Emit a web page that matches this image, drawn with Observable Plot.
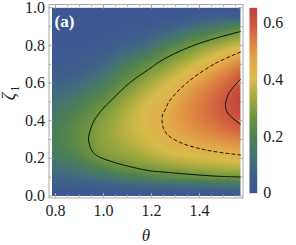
<!DOCTYPE html>
<html>
<head>
<meta charset="utf-8">
<script src="https://cdn.jsdelivr.net/npm/d3@7"></script>
<script src="https://cdn.jsdelivr.net/npm/@observablehq/plot@0.6"></script>
<style>
  html, body { margin:0; padding:0; background:#fff; }
  #fig { position:relative; width:296px; height:245px; overflow:hidden; background:#fff; }
  #fig svg { position:absolute; top:0; left:0; font-family:"Liberation Serif", "DejaVu Serif", serif !important; }
  #fig svg text { font-family:"Liberation Serif", "DejaVu Serif", serif !important; }
  #ylab { position:absolute; left:9px; top:93px; transform:translate(-50%,-50%) rotate(-90deg); font-family:"Liberation Serif", serif; font-size:18px; color:#222; white-space:nowrap; line-height:1; }
  #ylab i { font-style:italic; }
  #ylab span { font-size:12px; position:relative; top:4px; margin-left:1px; }
</style>
</head>
<body>
<div id="fig"><div id="ylab"><i>ζ</i><span>1</span></div></div>
<script>
// grid nodes (θ columns, ζ rows)
const thetaNodes = [0.7854, 0.8836, 0.9817, 1.0799, 1.1781, 1.2763, 1.3744, 1.4726, 1.5708];
const zetaNodes = [0, 0.05, 0.1, 0.15, 0.2, 0.25, 0.3, 0.35, 0.4, 0.45, 0.5, 0.55, 0.6, 0.65, 0.7, 0.75, 0.8, 0.85, 0.9, 0.95, 1];
// values along ζ for each θ column
const valTheta0 = [0, 0.04, 0.08, 0.12, 0.157, 0.18, 0.184, 0.178, 0.163, 0.142, 0.117, 0.09, 0.065, 0.043, 0.026, 0.014, 0.007, 0.003, 0.001, 0, 0];
const valTheta1 = [0, 0.05, 0.10, 0.15, 0.197, 0.228, 0.24, 0.236, 0.222, 0.198, 0.168, 0.133, 0.098, 0.067, 0.042, 0.024, 0.012, 0.005, 0.002, 0, 0];
const valTheta2 = [0, 0.06, 0.13, 0.205, 0.276, 0.296, 0.304, 0.304, 0.293, 0.27, 0.238, 0.198, 0.155, 0.113, 0.077, 0.048, 0.027, 0.013, 0.005, 0.001, 0];
const valTheta3 = [0, 0.07, 0.175, 0.258, 0.305, 0.333, 0.35, 0.358, 0.355, 0.343, 0.32, 0.288, 0.25, 0.205, 0.158, 0.112, 0.072, 0.04, 0.018, 0.005, 0];
const valTheta4 = [0, 0.08, 0.205, 0.283, 0.335, 0.372, 0.397, 0.41, 0.414, 0.408, 0.39, 0.362, 0.327, 0.29, 0.243, 0.175, 0.11, 0.06, 0.027, 0.008, 0];
const valTheta5 = [0, 0.09, 0.235, 0.31, 0.37, 0.415, 0.443, 0.462, 0.469, 0.466, 0.453, 0.43, 0.40, 0.36, 0.312, 0.265, 0.20, 0.12, 0.06, 0.02, 0];
const valTheta6 = [0, 0.10, 0.25, 0.33, 0.39, 0.44, 0.475, 0.503, 0.52, 0.524, 0.52, 0.505, 0.475, 0.435, 0.385, 0.33, 0.278, 0.19, 0.11, 0.04, 0];
const valTheta7 = [0, 0.11, 0.265, 0.345, 0.41, 0.46, 0.505, 0.54, 0.565, 0.578, 0.578, 0.565, 0.54, 0.505, 0.457, 0.40, 0.33, 0.255, 0.15, 0.06, 0];
const valTheta8 = [0, 0.12, 0.277, 0.355, 0.425, 0.48, 0.53, 0.575, 0.61, 0.64, 0.652, 0.638, 0.61, 0.58, 0.53, 0.465, 0.39, 0.31, 0.215, 0.06, 0];

// contour lines
const outerTheta = [1.5708, 1.39, 1.251, 1.1875, 1.1125, 1.035, 0.995, 0.96, 0.945, 0.9375, 0.941, 0.952, 0.974, 1.049, 1.1875, 1.251, 1.46, 1.5708];
const outerZeta  = [0.874, 0.807, 0.727, 0.672, 0.605, 0.512, 0.46, 0.399, 0.35, 0.31, 0.275, 0.24, 0.213, 0.177, 0.135, 0.127, 0.106, 0.101];
const dashTheta = [1.5708, 1.46, 1.349, 1.275, 1.258, 1.246, 1.244, 1.249, 1.265, 1.32, 1.432, 1.5708];
const dashZeta  = [0.765, 0.70, 0.603, 0.505, 0.461, 0.43, 0.40, 0.363, 0.328, 0.284, 0.243, 0.218];
const innerTheta = [1.5708, 1.529, 1.515, 1.508, 1.52, 1.5708];
const innerZeta  = [0.62, 0.559, 0.523, 0.475, 0.437, 0.381];

// ticks
const xMajor = [0.8, 1.0, 1.2, 1.4];
const xMinor = [0.85, 0.9, 0.95, 1.05, 1.1, 1.15, 1.25, 1.3, 1.35, 1.45, 1.5, 1.55];
const yMajor = [0, 0.2, 0.4, 0.6, 0.8, 1.0];
const yMinor = [0.1, 0.3, 0.5, 0.7, 0.9];
const cbTicks = [0, 0.2, 0.4, 0.6];
const cbMax = 0.654;

// colour ramp (DarkRainbow-like)
const colorStops = [0, 0.06, 0.12, 0.2, 0.27, 0.34, 0.4, 0.46, 0.52, 0.58, 0.654];
const colorRange = ["#3d5793", "#3e5f8c", "#42707a", "#4d8151", "#6f943f", "#a6ac3f", "#d9bb4a", "#e2ac48", "#df8a43", "#d0603e", "#c1413b"];

const columns = [valTheta0, valTheta1, valTheta2, valTheta3, valTheta4, valTheta5, valTheta6, valTheta7, valTheta8];
const grid = [];
thetaNodes.forEach((t, i) => zetaNodes.forEach((z, j) => grid.push({theta: t, zeta: z, value: columns[i][j]})));

const colorScale = {type: "linear", domain: colorStops, range: colorRange, clamp: true};
const W = 296, H = 245;
const frameL = 48.5, frameR = 242.5, frameT = 4, frameB = 197.5;
const fw = frameR - frameL, fh = frameB - frameT;
const tickColor = "#a8a8a8";
const font = '"Liberation Serif", serif';

const main = Plot.plot({
  width: W, height: H,
  marginLeft: frameL, marginRight: W - frameR, marginTop: frameT, marginBottom: H - frameB,
  x: {domain: [0.7729, 1.5813]},
  y: {domain: [-0.0106, 1.0175]},
  color: colorScale,
  style: {fontFamily: font, fontSize: "16px", color: "#222", background: "transparent"},
  marks: [
    Plot.raster(grid, {x: "theta", y: "zeta", fill: "value", interpolate: "barycentric",
      x1: thetaNodes[0], x2: thetaNodes[thetaNodes.length - 1], y1: 0, y2: 1}),
    Plot.line({length: outerTheta.length}, {x: outerTheta, y: outerZeta, curve: "catmull-rom", stroke: "#111", strokeWidth: 1}),
    Plot.line({length: dashTheta.length}, {x: dashTheta, y: dashZeta, curve: "catmull-rom", stroke: "#111", strokeWidth: 1, strokeDasharray: "3,3"}),
    Plot.line({length: innerTheta.length}, {x: innerTheta, y: innerZeta, curve: "catmull-rom", stroke: "#111", strokeWidth: 1}),
    Plot.frame({stroke: tickColor}),
    Plot.ruleX(xMajor, {insetTop: fh - 4.5, stroke: tickColor}),
    Plot.ruleX(xMinor, {insetTop: fh - 2.5, stroke: tickColor}),
    Plot.ruleX(xMajor, {insetBottom: fh - 4.5, stroke: tickColor}),
    Plot.ruleX(xMinor, {insetBottom: fh - 2.5, stroke: tickColor}),
    Plot.ruleY(yMajor, {insetRight: fw - 4.5, stroke: tickColor}),
    Plot.ruleY(yMinor, {insetRight: fw - 2.5, stroke: tickColor}),
    Plot.ruleY(yMajor, {insetLeft: fw - 4.5, stroke: tickColor}),
    Plot.ruleY(yMinor, {insetLeft: fw - 2.5, stroke: tickColor}),
    Plot.axisX(xMajor, {tickSize: 0, tickPadding: 7, tickFormat: d => d.toFixed(1), label: null}),
    Plot.axisY(yMajor, {tickSize: 0, tickPadding: 4, tickFormat: d => d.toFixed(1), label: null}),
    Plot.text(["(a)"], {frameAnchor: "top-left", dx: 5.5, dy: 17, textAnchor: "start", lineAnchor: "middle",
      fill: "white", fontWeight: "bold", fontSize: 17, fontFamily: font}),
    Plot.text(["θ"], {frameAnchor: "bottom", dy: 37.5, lineAnchor: "middle", fontStyle: "italic", fontSize: 17, fontFamily: font, fill: "#222"})
  ]
});

const cb = Plot.plot({
  width: 56, height: H,
  marginLeft: 9, marginRight: 56 - 16.7, marginTop: 7.3, marginBottom: H - 192.7,
  x: {domain: [0, 1], axis: null},
  y: {domain: [0, cbMax]},
  color: colorScale,
  style: {fontFamily: font, fontSize: "16px", color: "#222", background: "transparent"},
  marks: [
    Plot.raster({x1: 0, x2: 1, y1: 0, y2: cbMax, fill: (x, y) => y}),
    Plot.axisY(cbTicks, {anchor: "right", tickSize: 0, tickPadding: 6, tickFormat: d => d === 0 ? "0" : d.toFixed(1), label: null})
  ]
});

const fig = document.getElementById("fig");
fig.appendChild(main);
cb.style.left = "240px";
fig.appendChild(cb);
</script>
</body>
</html>
